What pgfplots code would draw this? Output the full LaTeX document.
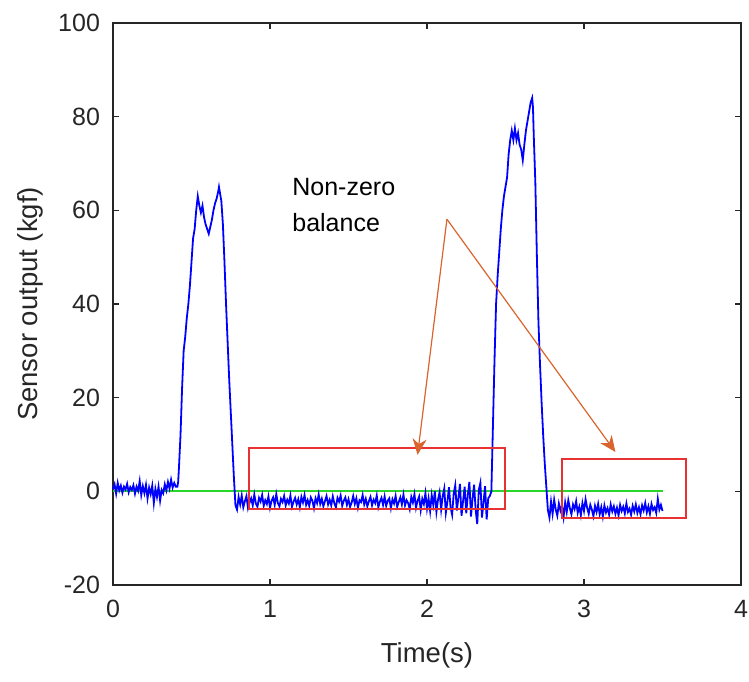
\documentclass[border=0pt]{standalone}
\usepackage{pgfplots}
\pgfplotsset{compat=1.18}
\usetikzlibrary{arrows.meta}
\usepackage{fontspec}
\setmainfont{Liberation Sans}
\definecolor{axgray}{RGB}{38,38,38}
\definecolor{mblue}{RGB}{0,0,255}
\definecolor{zerogreen}{RGB}{40,215,40}
\definecolor{boxred}{RGB}{232,50,50}
\definecolor{arrorange}{RGB}{217,100,45}

\begin{document}
\begin{tikzpicture}
\begin{axis}[
  name=ax,
  width=314pt, height=281pt, scale only axis,
  xmin=0, xmax=4, ymin=-20, ymax=100,
  xtick={0,1,2,3,4}, ytick={-20,0,20,40,60,80,100},
  tick align=inside, major tick length=3pt,
  axis line style={axgray, line width=0.6pt},
  tick style={axgray, line width=0.6pt},
  ticklabel style={font=\fontsize{12.5}{15}\selectfont, text=axgray},
  xticklabel style={yshift=-4pt},
  yticklabel style={xshift=-3pt},
  /pgf/number format/assume math mode=true,
  xlabel={Time(s)}, ylabel={Sensor output (kgf)},
  label style={font=\fontsize{13.75}{16}\selectfont, text=axgray},
  xlabel style={at={(axis description cs:0.5,-0.1246)}, anchor=center},
  ylabel style={at={(axis description cs:-0.132,0.5)}, anchor=center},
  clip=false,
]
% zero reference
\addplot[color=zerogreen, line width=1pt] coordinates {(0,0) (3.5,0)};
% sensor signal
\addplot[mblue, line width=0.9pt] coordinates {
 (0.00,0.5) (0.01,1.5) (0.02,-0.5) (0.03,1.8) (0.04,0.2) (0.05,1.2) (0.06,-0.3)
 (0.07,1.0) (0.08,0.4) (0.09,1.6) (0.10,-0.2) (0.11,0.9) (0.12,0.3) (0.13,1.3)
 (0.14,-0.5) (0.15,1.0) (0.16,0.1) (0.17,2.2) (0.18,-0.8) (0.19,1.1) (0.20,-0.4)
 (0.21,1.4) (0.22,-1.5) (0.23,0.8) (0.24,-0.6) (0.25,1.2) (0.26,-2.5) (0.27,0.5)
 (0.28,-1.2) (0.29,1.0) (0.30,-2.0) (0.31,0.3) (0.32,-0.4) (0.33,1.5) (0.34,0.2)
 (0.35,2.0) (0.36,0.6) (0.37,2.5) (0.38,0.8) (0.39,1.8) (0.40,1.0)
 (0.41,1) (0.415,2) (0.42,5) (0.43,12) (0.44,22) (0.45,30) (0.46,33) (0.47,37)
 (0.48,40) (0.49,44) (0.50,49) (0.51,54) (0.52,56) (0.53,60) (0.54,63) (0.55,61)
 (0.56,59.5) (0.57,61) (0.58,58.5) (0.59,57) (0.60,56) (0.61,55) (0.62,56.5)
 (0.63,58) (0.64,60) (0.65,61.5) (0.66,62.5) (0.67,64) (0.675,65) (0.68,64)
 (0.69,62) (0.70,57) (0.71,49) (0.72,40) (0.73,32) (0.74,24) (0.75,17) (0.76,10)
 (0.77,3) (0.78,-3)
 (0.79,-3.9) (0.80,-1.2) (0.81,-2.8) (0.82,-0.9) (0.83,-3.4) (0.84,-2.1) (0.85,-1.0)
 (0.86,-3.6) (0.87,-2.4) (0.88,-1.5) (0.89,-3.0) (0.90,-0.7) (0.91,-2.6) (0.92,-3.3)
 (0.93,-1.4) (0.94,-2.2) (0.95,-0.8) (0.96,-3.1) (0.97,-1.9) (0.98,-2.7) (0.99,-1.1)
 (1.00,-3.5) (1.01,-2.0) (1.02,-1.3) (1.03,-2.9) (1.04,-0.6) (1.05,-2.5) (1.06,-3.2)
 (1.07,-1.6) (1.08,-2.3) (1.09,-1.0) (1.10,-3.0) (1.11,-1.8) (1.12,-2.6) (1.13,-0.9)
 (1.14,-3.3) (1.15,-2.2) (1.16,-1.4) (1.17,-2.8) (1.18,-1.7) (1.19,-3.4)
 (1.20,-1.2) (1.21,-2.4) (1.22,-0.8) (1.23,-2.9) (1.24,-1.9) (1.25,-3.1) (1.26,-1.3)
 (1.27,-2.0) (1.28,-3.6) (1.29,-1.5) (1.30,-2.5) (1.31,-0.7) (1.32,-2.7) (1.33,-1.6)
 (1.34,-3.2) (1.35,-2.1) (1.36,-1.0) (1.37,-2.8) (1.38,-1.8) (1.39,-3.0)
 (1.40,-1.1) (1.41,-2.6) (1.42,-3.4) (1.43,-1.4) (1.44,-2.2) (1.45,-0.9) (1.46,-3.1)
 (1.47,-2.0) (1.48,-1.3) (1.49,-2.9) (1.50,-1.7) (1.51,-3.3) (1.52,-2.4) (1.53,-1.0)
 (1.54,-2.7) (1.55,-1.5) (1.56,-3.5) (1.57,-1.9) (1.58,-2.3) (1.59,-0.8)
 (1.60,-2.8) (1.61,-1.6) (1.62,-3.2) (1.63,-2.1) (1.64,-1.2) (1.65,-3.0) (1.66,-1.8)
 (1.67,-2.5) (1.68,-0.9) (1.69,-3.4) (1.70,-2.2) (1.71,-1.4) (1.72,-2.9) (1.73,-1.1)
 (1.74,-3.1) (1.75,-2.0) (1.76,-1.5) (1.77,-3.6) (1.78,-1.7) (1.79,-2.6)
 (1.80,-1.0) (1.81,-3.3) (1.82,-2.3) (1.83,-1.3) (1.84,-2.8) (1.85,-0.7) (1.86,-3.0)
 (1.87,-1.9) (1.88,-2.5) (1.89,-3.8) (1.90,-1.2) (1.91,-2.4) (1.92,-0.6) (1.93,-3.5)
 (1.94,-2.0) (1.95,-1.1) (1.96,-4.0) (1.97,-1.6) (1.98,-2.7) (1.99,-0.4)
 (2.00,-3.7) (2.01,-1.5) (2.02,-4.2) (2.03,-0.8) (2.04,-2.9) (2.05,0.0) (2.06,-4.4)
 (2.07,-1.8) (2.08,-0.2) (2.09,-3.9) (2.10,-1.0) (2.11,0.6) (2.12,-4.6) (2.13,-2.2)
 (2.14,0.9) (2.15,-3.4) (2.16,-5.0) (2.17,-0.5) (2.18,1.3) (2.19,-4.1)
 (2.20,-1.4) (2.21,1.6) (2.22,-5.2) (2.23,-2.0) (2.24,1.0) (2.25,-4.7) (2.26,-0.8)
 (2.27,2.0) (2.28,-5.4) (2.29,-1.6) (2.30,1.4) (2.31,-4.0) (2.32,-7.0) (2.33,0.3)
 (2.34,1.8) (2.35,-5.6) (2.36,-2.4) (2.37,1.1) (2.38,-6.0) (2.39,-1.5) (2.40,-1)
 (2.41,0) (2.42,14) (2.43,28) (2.44,40) (2.45,46) (2.46,51) (2.47,56) (2.48,60)
 (2.49,63) (2.50,65) (2.51,67) (2.52,72) (2.53,75) (2.54,77) (2.55,75) (2.56,77.5)
 (2.57,75) (2.58,76.5) (2.59,74) (2.60,73) (2.61,70.7) (2.62,74) (2.63,77) (2.64,79)
 (2.65,81) (2.66,83) (2.67,84) (2.675,82) (2.68,76) (2.69,66) (2.70,50) (2.71,36)
 (2.72,27) (2.73,19) (2.74,12) (2.75,6) (2.76,1) (2.77,-4)
 (2.78,-5.6) (2.79,-2.2) (2.80,-4.8) (2.81,-1.8) (2.82,-3.9) (2.83,-5.2) (2.84,-2.6)
 (2.85,-4.1) (2.86,-3.0) (2.87,-5.5) (2.88,-2.4) (2.89,-4.4) (2.90,-1.9) (2.91,-3.6)
 (2.92,-4.9) (2.93,-2.8) (2.94,-3.8) (2.95,-2.1) (2.96,-4.6) (2.97,-3.3) (2.98,-5.1)
 (2.99,-2.5) (3.00,-4.2) (3.01,-1.7) (3.02,-3.5) (3.03,-4.8) (3.04,-2.9) (3.05,-3.9)
 (3.06,-5.3) (3.07,-3.1) (3.08,-4.4) (3.09,-2.7) (3.10,-4.9) (3.11,-3.4) (3.12,-5.4)
 (3.13,-3.0) (3.14,-4.5) (3.15,-3.6) (3.16,-5.0) (3.17,-2.8) (3.18,-4.3) (3.19,-3.2)
 (3.20,-4.8) (3.21,-3.5) (3.22,-5.1) (3.23,-2.9) (3.24,-4.2) (3.25,-3.3) (3.26,-4.7)
 (3.27,-2.6) (3.28,-4.4) (3.29,-3.7) (3.30,-5.0) (3.31,-3.1) (3.32,-4.3) (3.33,-2.8)
 (3.34,-4.6) (3.35,-3.4) (3.36,-4.9) (3.37,-3.0) (3.38,-4.1) (3.39,-2.5) (3.40,-4.5)
 (3.41,-3.2) (3.42,-4.8) (3.43,-2.7) (3.44,-4.0) (3.45,-3.4) (3.46,-4.6) (3.47,-1.6)
 (3.48,-3.9) (3.49,-2.9) (3.50,-4.2)};
% highlighted regions
\draw[boxred, line width=0.7pt] (axis cs:0.866,9.25) rectangle (axis cs:2.497,-3.8);
\draw[boxred, line width=0.7pt] (axis cs:2.86,6.9) rectangle (axis cs:3.65,-5.7);
% annotation
\node[anchor=west, inner sep=0pt, align=left, text=black,
  font=\fontsize{12.5}{18}\selectfont] at (axis cs:1.14,61.2) {Non-zero\\balance};
\draw[arrorange, line width=0.6pt, -{Stealth[length=8pt,width=7pt]}]
  (axis cs:2.127,58.1) -- (axis cs:1.94,7.8);
\draw[arrorange, line width=0.6pt, -{Stealth[length=8pt,width=7pt]}]
  (axis cs:2.127,58.1) -- (axis cs:3.20,8.4);
\end{axis}
\pgfresetboundingbox
\path[use as bounding box] ([xshift=-56.5pt,yshift=-48pt]ax.south west)
  rectangle ([xshift=4pt,yshift=11.5pt]ax.north east);
\end{tikzpicture}
\end{document}
